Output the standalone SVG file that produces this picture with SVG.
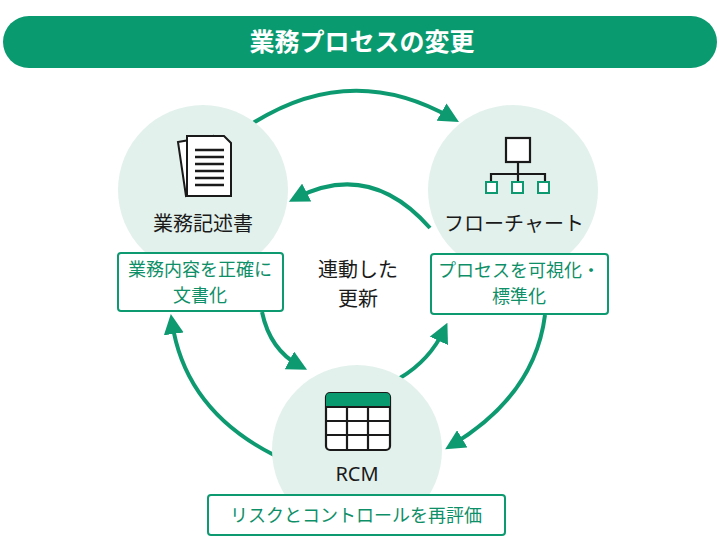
<svg xmlns="http://www.w3.org/2000/svg" width="720" height="536" viewBox="0 0 720 536">
<defs>
<style>
.c{fill:#e2f1ec}
.t{font-family:"Noto Sans CJK JP","Noto Sans",sans-serif;font-size:20px;fill:#1a1a1a;text-anchor:middle}
.g{font-family:"Noto Sans CJK JP","Noto Sans",sans-serif;font-size:18px;fill:#0e8f68;text-anchor:middle}
.b{fill:#fff;stroke:#0e9a70;stroke-width:2}
.a{fill:none;stroke:#0e9a70;stroke-width:4;marker-end:url(#m)}
.k{fill:none;stroke:#1a1a1a;stroke-width:2.2}
</style>
<marker id="m" viewBox="0 0 10 10" refX="6" refY="5" markerWidth="5" markerHeight="5" orient="auto" markerUnits="strokeWidth">
<path d="M0,0L10,5L0,10z" fill="#0e9a70"/></marker>
</defs>
<rect x="3" y="16" width="714" height="52" rx="26" fill="#0a9a70"/>
<text x="362" y="51" font-family="'Noto Sans CJK JP',sans-serif" font-size="25" font-weight="bold" fill="#fff" text-anchor="middle">業務プロセスの変更</text>
<g id="connectors">
<path class="a" d="M250,125 Q350,60 452,118"/>
<path class="a" d="M545,315 Q535,395 452,445"/>
<path class="a" d="M274,455 Q185,410 172,322"/>
<path class="a" d="M430,228 Q370,160 296,198"/>
<path class="a" d="M262,312 Q270,350 300,366"/>
<path class="a" d="M400,378 Q430,360 444,330"/>
</g>
<g id="doc">
<circle class="c" cx="203" cy="190" r="85"/>
<path d="M178,142 L213,136 L220,190 L186,196 Z" fill="#fff" stroke="#1a1a1a" stroke-width="2"/>
<path d="M187,136 L224,136 L231,143 L231,196 L187,196 Z" fill="#fff" stroke="#1a1a1a" stroke-width="2"/>
<path d="M195,150h29M195,157h29M195,164h29M195,171h29M195,178h29M195,185h29" stroke="#1a1a1a" stroke-width="2.5"/>
<text class="t" x="203" y="231">業務記述書</text>
<rect class="b" x="118" y="253" width="165" height="58" rx="3"/>
<text class="g" x="200" y="276">業務内容を正確に</text>
<text class="g" x="200" y="302">文書化</text>
</g>
<g id="flow">
<circle class="c" cx="513" cy="190" r="85"/>
<rect x="506" y="138" width="24" height="24" fill="#fff" stroke="#1a1a1a" stroke-width="2.2"/>
<path class="k" d="M518,162v12M491,182v-8h54v8M518,174v8"/>
<rect x="486" y="182" width="11" height="11" fill="#fff" stroke="#0e9a70" stroke-width="2"/>
<rect x="512" y="182" width="11" height="11" fill="#fff" stroke="#0e9a70" stroke-width="2"/>
<rect x="538" y="182" width="11" height="11" fill="#fff" stroke="#0e9a70" stroke-width="2"/>
<text class="t" x="514" y="231">フローチャート</text>
<rect class="b" x="431" y="254" width="177" height="60" rx="3"/>
<text class="g" x="519" y="277">プロセスを可視化・</text>
<text class="g" x="519" y="303">標準化</text>
</g>
<g id="rcm">
<circle class="c" cx="357" cy="450" r="85"/>
<rect x="326" y="393" width="64" height="57" rx="4" fill="#fff" stroke="#1a1a1a" stroke-width="2.2"/>
<path d="M326,407v-10a4,4 0 0 1 4,-4h56a4,4 0 0 1 4,4v10z" fill="#0a9a70"/>
<path class="k" d="M326,407h64M326,421h64M326,435h64M347,407v43M368,407v43"/>
<text x="357" y="481" font-family="'Noto Sans',sans-serif" font-size="20" fill="#1a1a1a" text-anchor="middle">RCM</text>
<rect class="b" x="208" y="495" width="297" height="40" rx="3"/>
<text class="g" x="356" y="522">リスクとコントロールを再評価</text>
</g>
<text class="t" x="358" y="277">連動した</text>
<text class="t" x="358" y="306">更新</text>
</svg>
